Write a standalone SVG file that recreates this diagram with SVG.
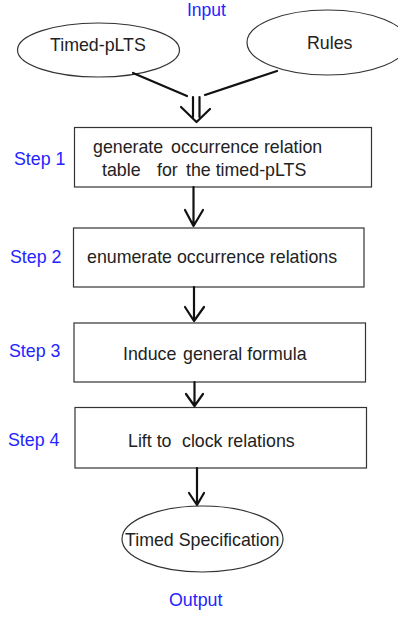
<svg xmlns="http://www.w3.org/2000/svg" width="398" height="617" viewBox="0 0 398 617">
  <style>
    .bg { fill: #ffffff; }
    .shape { fill: #ffffff; stroke: #333333; stroke-width: 1.2; }
    .label { font-family: "Liberation Sans", Arial, sans-serif; font-size: 17.8px; fill: #222222; }
    .step { font-family: "Liberation Sans", Arial, sans-serif; font-size: 17.8px; fill: #2424ff; }
    .edge { fill: none; stroke: #111111; stroke-width: 2.2; stroke-linecap: round; stroke-linejoin: round; }
  </style>
  <rect class="bg" x="0" y="0" width="398" height="617"/>

  <text class="step" x="187" y="16" style="font-size:17.5px">Input</text>

  <g id="node-timed-plts">
    <ellipse class="shape" cx="98.5" cy="50" rx="81" ry="27"/>
    <text class="label" x="50" y="51">Timed-pLTS</text>
  </g>

  <g id="node-rules">
    <ellipse class="shape" cx="327.5" cy="42.5" rx="80.5" ry="32.5"/>
    <text class="label" x="307" y="49">Rules</text>
  </g>

  <g id="node-step1">
    <text class="step" x="14" y="165">Step 1</text>
    <rect class="shape" x="74.5" y="127.5" width="297" height="59.5"/>
    <text class="label" y="153"><tspan x="93">generate</tspan><tspan x="171">occurrence relation</tspan></text>
    <text class="label" y="176"><tspan x="102">table</tspan><tspan x="157">for</tspan><tspan x="186">the timed-pLTS</tspan></text>
  </g>

  <g id="node-step2">
    <text class="step" x="10" y="263">Step 2</text>
    <rect class="shape" x="73.5" y="228" width="290.5" height="59"/>
    <text class="label" x="87" y="263">enumerate occurrence relations</text>
  </g>

  <g id="node-step3">
    <text class="step" x="9" y="357">Step 3</text>
    <rect class="shape" x="74" y="323" width="291.5" height="59"/>
    <text class="label" y="360"><tspan x="123">Induce</tspan><tspan x="183">general formula</tspan></text>
  </g>

  <g id="node-step4">
    <text class="step" x="8" y="446">Step 4</text>
    <rect class="shape" x="75" y="407.5" width="291.5" height="60.5"/>
    <text class="label" y="447"><tspan x="128">Lift to</tspan><tspan x="182">clock relations</tspan></text>
  </g>

  <g id="node-output">
    <ellipse class="shape" cx="202.5" cy="539" rx="80.5" ry="33"/>
    <text class="label" x="125" y="546">Timed Specification</text>
  </g>

  <text class="step" x="169" y="606">Output</text>

  <g id="connectors">
    <!-- inputs merging into a double arrow -->
    <path class="edge" d="M133,73 L187,96"/>
    <path class="edge" d="M277,71 L205,95"/>
    <path class="edge" d="M193,97 L193,117 M199.5,97 L199.5,117"/>
    <path class="edge" d="M181,107 L196.5,122 L210,109"/>
    <!-- step 1 to step 2 -->
    <path class="edge" d="M193.5,187 L193.5,226 M185,210 L193.5,226 L203,210"/>
    <!-- step 2 to step 3 -->
    <path class="edge" d="M194,287 L194,321 M185,307 L194,321 L204,307"/>
    <!-- step 3 to step 4 -->
    <path class="edge" d="M194.5,382 L194.5,406 M186,394 L194.5,406 L203,394"/>
    <!-- step 4 to output -->
    <path class="edge" d="M197,468 L197,505 M189,493 L197,505 L204,493"/>
  </g>
</svg>
